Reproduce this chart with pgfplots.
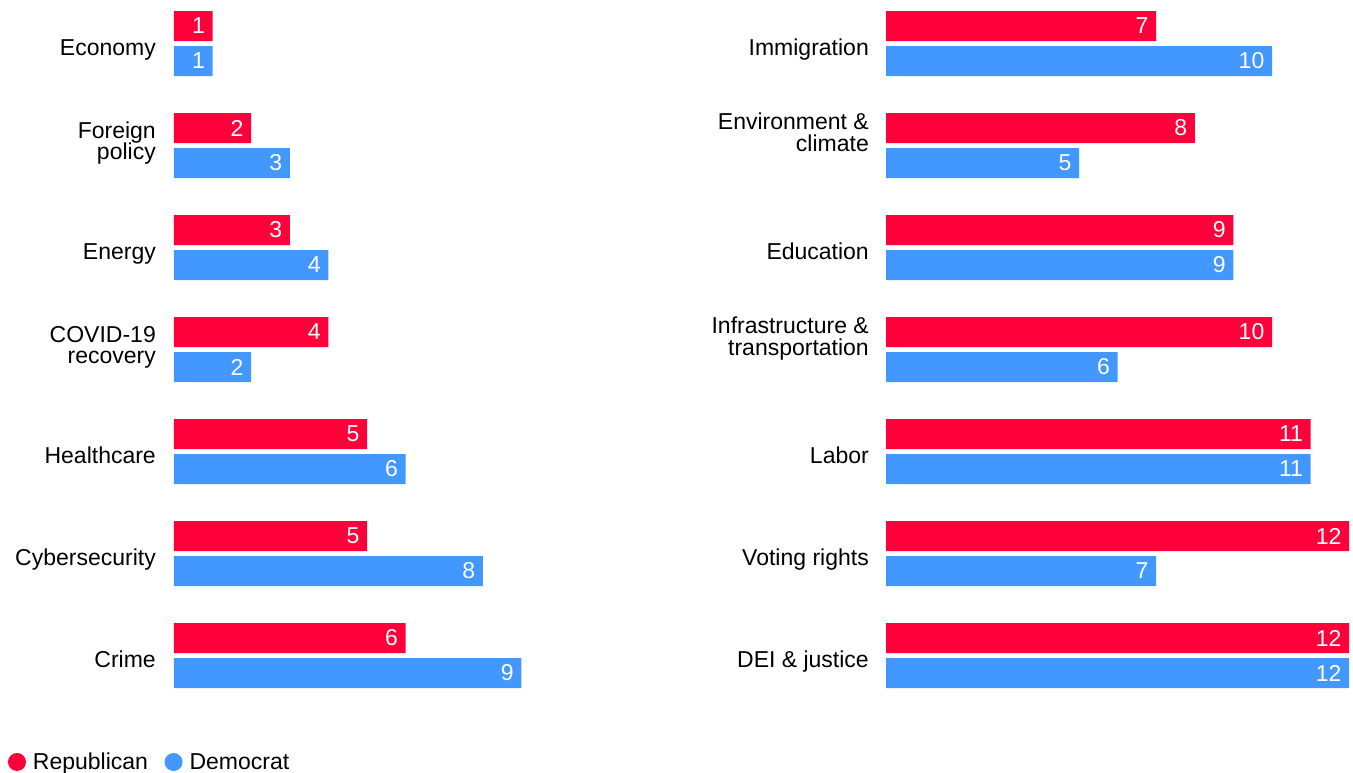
\documentclass[border=0pt]{standalone}
\usepackage{pgfplots}
\pgfplotsset{compat=1.18}
\usepackage{fontspec}
\setmainfont{Liberation Sans}
\definecolor{rep}{HTML}{FF003B}
\definecolor{dem}{HTML}{4298FF}
\newcommand{\one}[1]{\raisebox{-12pt}[0pt][0pt]{#1}}
\newcommand{\two}[3]{\raisebox{#1}[0pt][0pt]{\vtop{\baselineskip=21.5pt\lineskiplimit=-100pt\halign{\hfil##\cr #2\cr #3\cr}}}}
\pgfplotsset{
  panel/.style={
    scale only axis, width=463.2pt, height=714pt,
    xmin=0, xmax=12, ymin=-0.5, ymax=6.5, y dir=reverse,
    xbar, bar width=30pt,
    hide x axis, y axis line style={draw=none},
    ytick={0,...,6}, major tick length=0pt, ytick style={draw=none},
    yticklabel style={inner sep=0pt, xshift=-18pt, font=\fontsize{23}{21.5}\selectfont},
    clip=false,
    nodes near coords,
    every node near coord/.append style={anchor=east, text=white, inner sep=0pt, xshift=-7.5pt, font=\fontsize{23}{27}\selectfont},
    /pgf/number format/assume math mode=true,
  }
}
\begin{document}
\begin{tikzpicture}
\useasboundingbox (0,0) rectangle (1353pt,-773pt);
\begin{axis}[panel, at={(174pt,-706.5pt)}, anchor=south west,
  yticklabels={\one{Economy},\two{7.5pt}{Foreign}{policy},\one{Energy},\two{7.5pt}{COVID-19}{recovery},\one{Healthcare},\one{Cybersecurity},\one{Crime}},
  legend image code/.code={\fill[#1] (9pt,0pt) circle (9pt);},
  legend columns=2,
  legend style={draw=none, fill=none, inner sep=0pt, outer sep=0pt,
    at={(axis description cs:-0.3584,-0.0777)}, anchor=west,
    font=\fontsize{23}{27}\selectfont,
    /tikz/every odd column/.append style={column sep=5pt},
    /tikz/every even column/.append style={column sep=14.5pt}},
]
\addplot[fill=rep, draw=none, bar shift=17.5pt] coordinates {(1,0) (2,1) (3,2) (4,3) (5,4) (5,5) (6,6)};
\addplot[fill=dem, draw=none, bar shift=-17.5pt] coordinates {(1,0) (3,1) (4,2) (2,3) (6,4) (8,5) (9,6)};
\legend{Republican, Democrat}
\end{axis}
\begin{axis}[panel, at={(886pt,-706.5pt)}, anchor=south west,
  yticklabel style={xshift=1pt},
  yticklabels={\one{Immigration},\two{16pt}{Environment \&}{climate},\one{Education},\two{16pt}{Infrastructure \&}{transportation},\one{Labor},\one{Voting rights},\one{DEI \& justice}},
]
\addplot[fill=rep, draw=none, bar shift=17.5pt] coordinates {(7,0) (8,1) (9,2) (10,3) (11,4) (12,5) (12,6)};
\addplot[fill=dem, draw=none, bar shift=-17.5pt] coordinates {(10,0) (5,1) (9,2) (6,3) (11,4) (7,5) (12,6)};
\end{axis}
\end{tikzpicture}
\end{document}
